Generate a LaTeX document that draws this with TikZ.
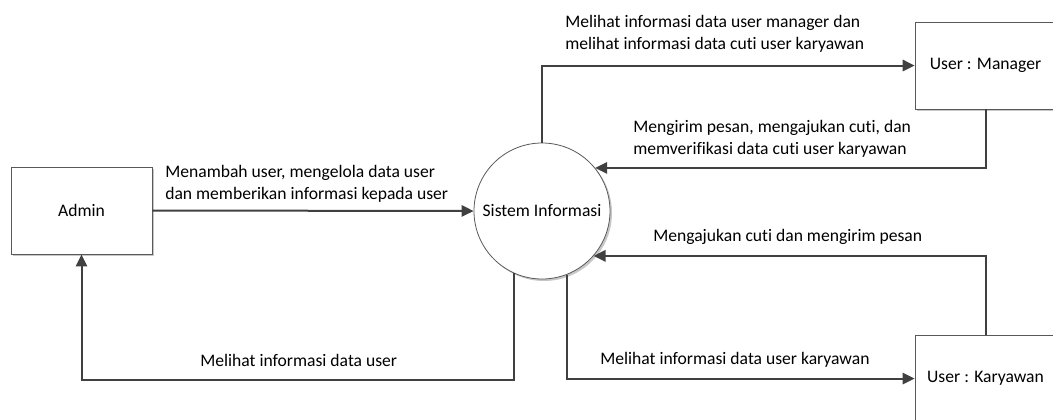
\documentclass[tikz,border=0pt]{standalone}
\usepackage{fontspec}
\setmainfont{Carlito}[Ligatures={NoCommon,NoContextual}]
\usetikzlibrary{arrows.meta,shadows}

\tikzset{
    entitas/.style={draw=black!65, fill=white, line width=0.6pt,
        minimum width=105.75pt, minimum height=65.25pt,
        drop shadow={shadow xshift=1.5pt, shadow yshift=-1.5pt, fill=black!22, opacity=1}},
    proses/.style={circle, draw=black!65, fill=white, line width=0.6pt,
        minimum size=102pt, inner sep=0pt,
        drop shadow={shadow xshift=1.5pt, shadow yshift=-1.5pt, fill=black!22, opacity=1}},
    alir/.style={draw=black!75, line width=1.5pt, -{Triangle[length=9pt,width=8.5pt]}},
    ket/.style={anchor=west, align=left, inner sep=0pt}
}

\begin{document}
\begin{tikzpicture}[x=0.75pt, y=-0.75pt, font=\fontsize{13.2}{16.5}\selectfont]
                \useasboundingbox (0,0) rectangle (1053,419);

                \node[entitas] (admin) at (81.5,210.5) {Admin};
                \node[proses] (sistem) at (542,211) {Sistem Informasi};
                \node[entitas] (manager) at (985.5,65.5) {User : Manager};
                \node[entitas] (karyawan) at (985.5,378.5) {User : Karyawan};

                \draw[alir] (admin.east) -- (sistem.west);
                \node[ket] (k1) at (165,183.5) {Menambah user, mengelola data user\\dan memberikan informasi kepada user};

                \draw[alir] (sistem.-114) -- ++(0,107) -| (admin.south);
                \node[ket] (k2) at (200,360) {Melihat informasi data user};

                \draw[alir] (sistem.north) |- (manager.west);
                \node[ket] (k3) at (565,34) {Melihat informasi data user manager dan\\melihat informasi data cuti user karyawan};

                \draw[alir] (manager.south) |- (sistem.39);
                \node[ket] (k4) at (633,139) {Mengirim pesan, mengajukan cuti, dan\\memverifikasi data cuti user karyawan};

                \draw[alir] (karyawan.north) |- (sistem.-41);
                \node[ket] (k5) at (653,237) {Mengajukan cuti dan mengirim pesan};

                \draw[alir] (sistem.-69) |- (karyawan.west);
                \node[ket] (k6) at (600,360) {Melihat informasi data user karyawan};
\end{tikzpicture}
\end{document}
